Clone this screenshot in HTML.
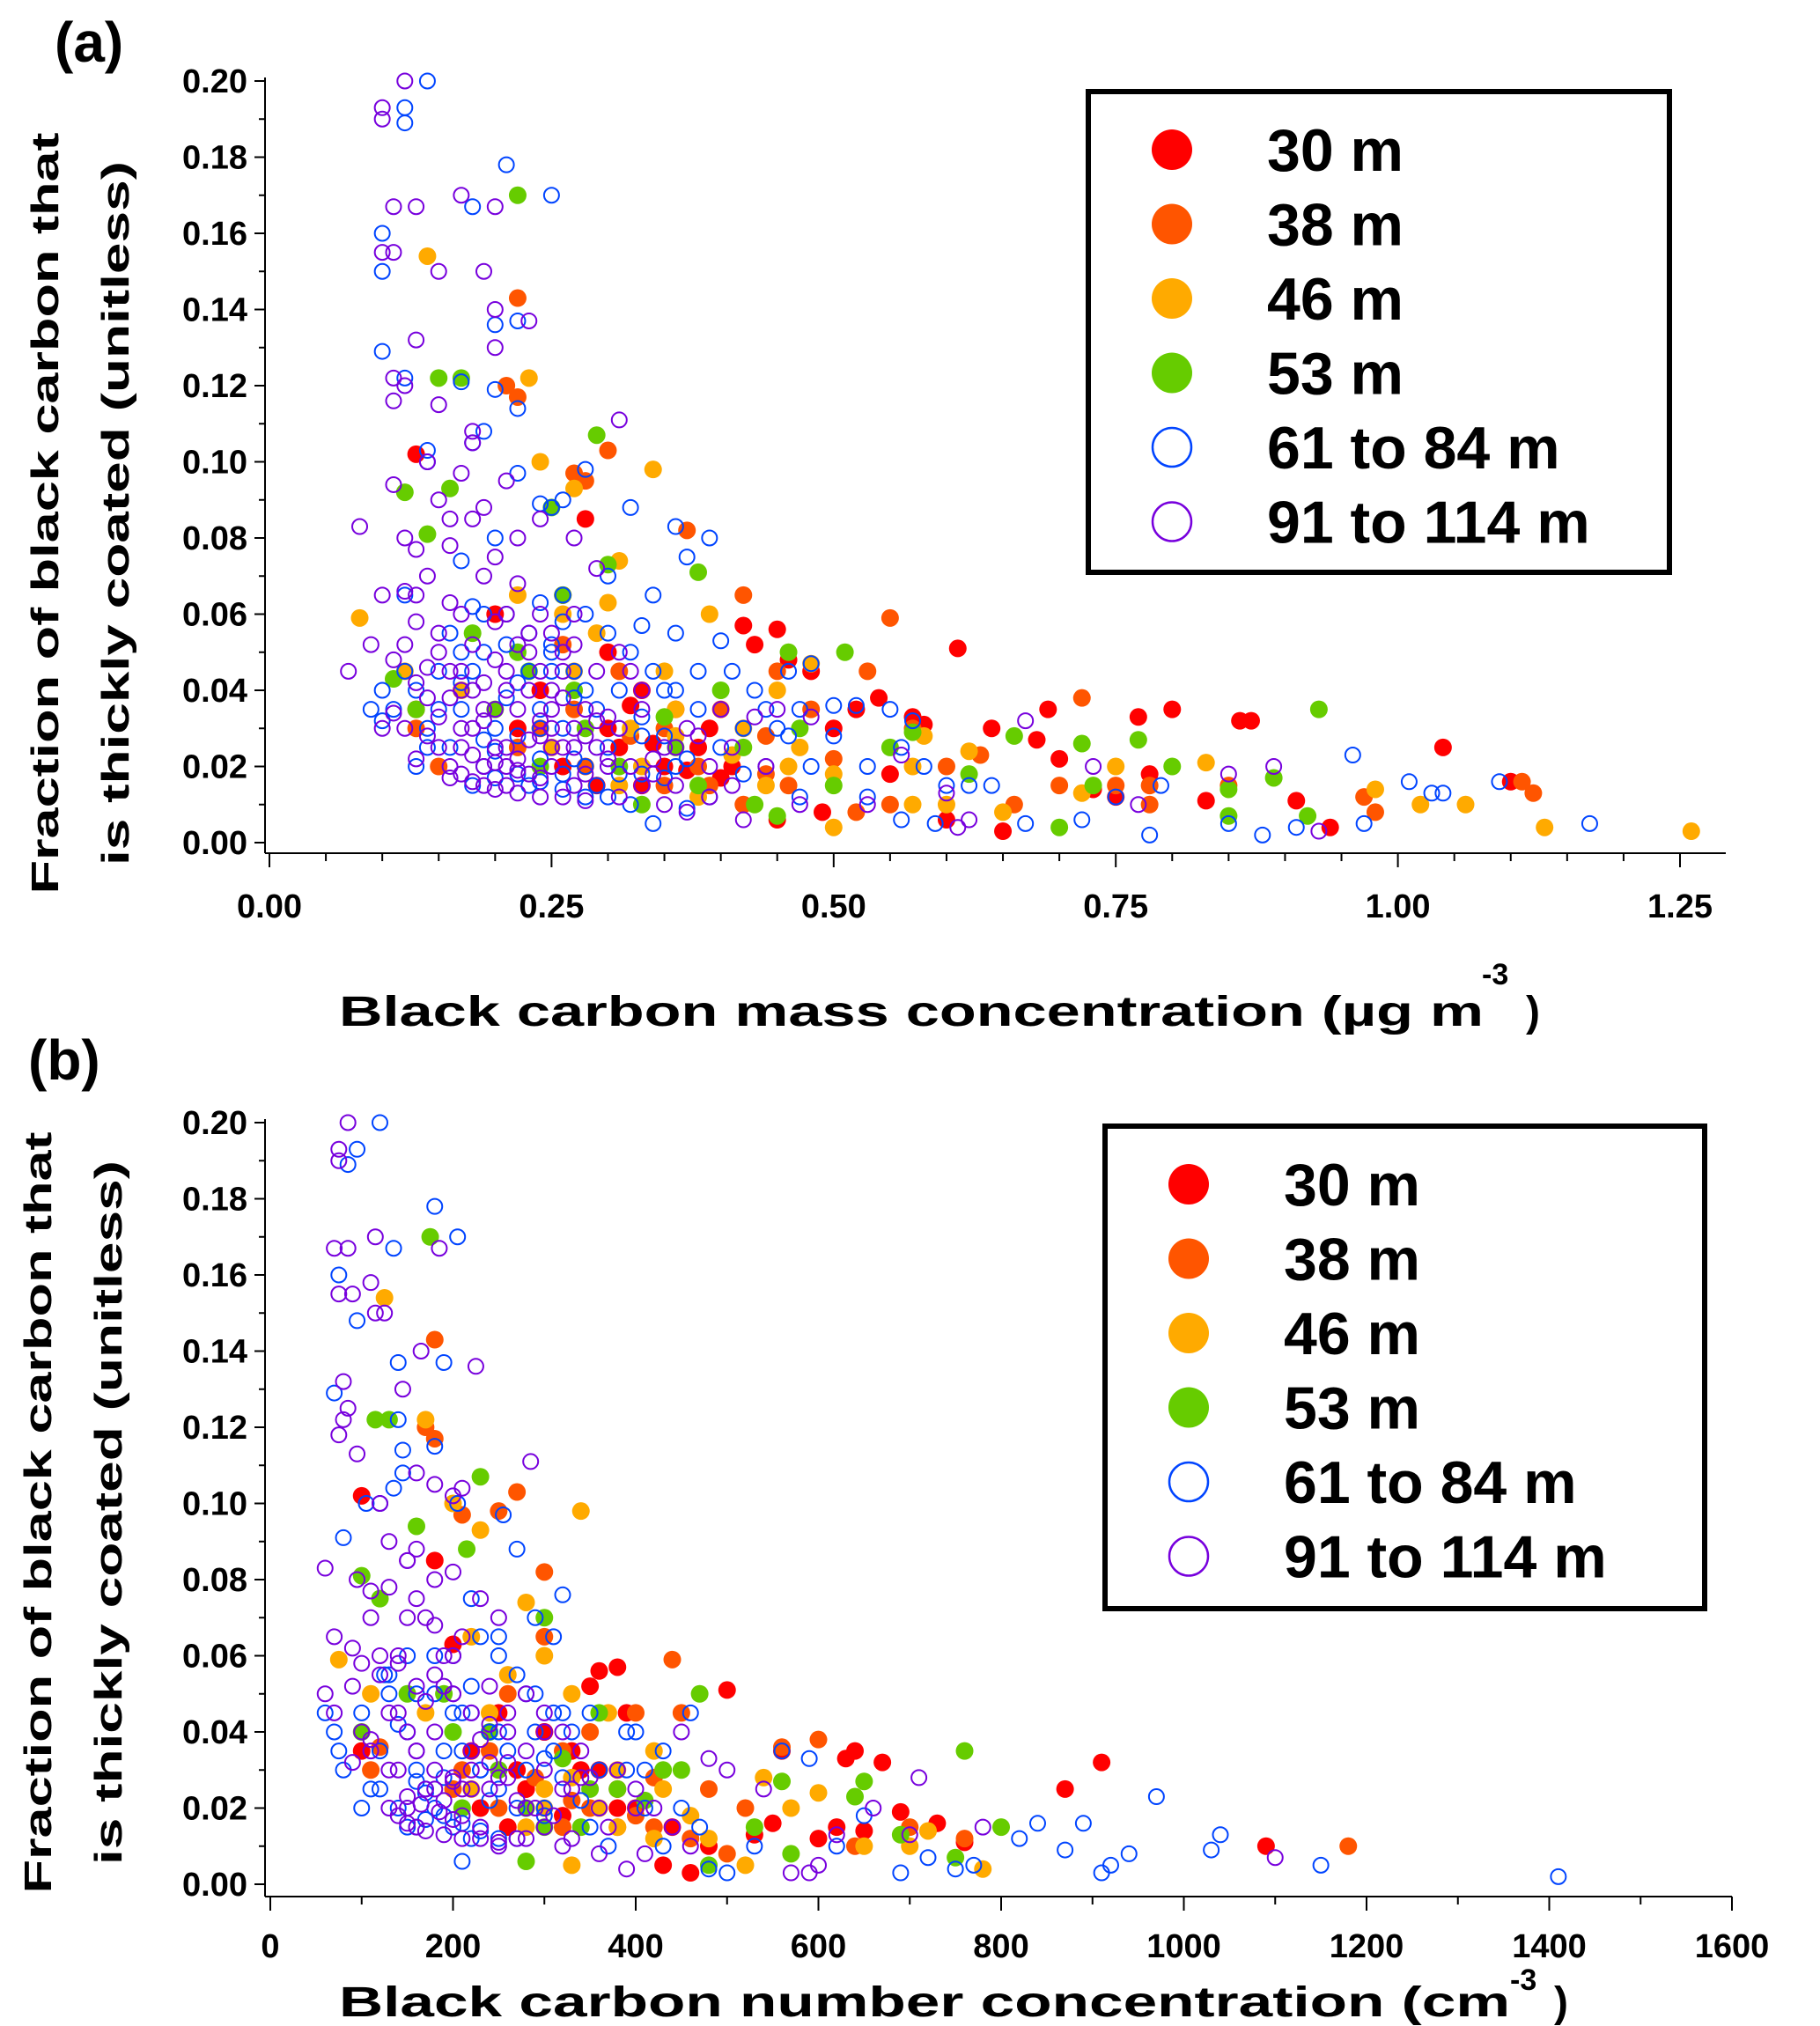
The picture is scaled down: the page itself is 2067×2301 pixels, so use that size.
<!DOCTYPE html>
<html><head><meta charset="utf-8"><style>
body{margin:0;background:#fff}
svg{display:block}
text{font-family:"Liberation Sans",sans-serif;font-weight:bold;fill:#000}
</style></head><body>
<svg id="chart" width="2067" height="2301" viewBox="0 0 2067 2301" xmlns="http://www.w3.org/2000/svg">
<rect width="2067" height="2301" fill="#fff"/>
<text x="62" y="70" font-size="64">(a)</text>
<text x="32" y="1226" font-size="64">(b)</text>
<g id="pa"></g>
<g id="pb"></g>
</svg>
<script>
const seriesNames=["30 m","38 m","46 m","53 m","61 to 84 m","91 to 114 m"];
const seriesColors=["#ff0000","#ff5500","#ffaa00","#66cc00","#0044ff","#7700dd"];
const seriesFilled=[true,true,true,true,false,false];
const yTicks=[0,0.02,0.04,0.06,0.08,0.1,0.12,0.14,0.16,0.18,0.2];
const yTickLabels=["0.00","0.02","0.04","0.06","0.08","0.10","0.12","0.14","0.16","0.18","0.20"];
const xTicksA=[0,0.25,0.5,0.75,1.0,1.25];
const xTickLabelsA=["0.00","0.25","0.50","0.75","1.00","1.25"];
const xTicksB=[0,200,400,600,800,1000,1200,1400,1600];
const xTickLabelsB=["0","200","400","600","800","1000","1200","1400","1600"];

const a30=[[0.13,0.102],[0.28,0.085],[0.26,0.065],[0.42,0.057],[0.45,0.056],[0.48,0.045],[0.46,0.048],[0.43,0.052],[0.5,0.03],[0.52,0.035],[0.54,0.038],[0.57,0.033],[0.58,0.031],[0.61,0.051],[0.64,0.03],[0.69,0.035],[0.77,0.033],[0.8,0.035],[0.86,0.032],[0.87,0.032],[1.04,0.025],[1.1,0.016],[0.94,0.004],[0.83,0.011],[0.78,0.018],[0.73,0.014],[0.7,0.022],[0.65,0.003],[0.6,0.006],[0.55,0.018],[0.49,0.008],[0.45,0.006],[0.4,0.017],[0.37,0.019],[0.35,0.02],[0.34,0.026],[0.32,0.036],[0.3,0.05],[0.24,0.04],[0.22,0.03],[0.2,0.06],[0.13,0.035],[0.38,0.025],[0.33,0.015],[0.75,0.012],[0.91,0.011],[0.68,0.027],[0.26,0.02],[0.3,0.03],[0.33,0.04],[0.36,0.035],[0.39,0.03],[0.41,0.02],[0.29,0.015],[0.31,0.025]];
const a38=[[0.22,0.143],[0.21,0.12],[0.22,0.117],[0.3,0.103],[0.27,0.097],[0.28,0.095],[0.55,0.059],[0.42,0.065],[0.37,0.082],[0.45,0.045],[0.53,0.045],[0.57,0.03],[0.63,0.023],[0.72,0.038],[0.75,0.015],[0.78,0.015],[0.85,0.015],[0.97,0.012],[0.98,0.008],[1.11,0.016],[1.12,0.013],[0.6,0.02],[0.5,0.022],[0.44,0.028],[0.4,0.035],[0.35,0.03],[0.31,0.045],[0.26,0.052],[0.22,0.025],[0.15,0.02],[0.13,0.03],[0.42,0.01],[0.39,0.015],[0.48,0.035],[0.66,0.01],[0.7,0.015],[0.78,0.01],[0.55,0.01],[0.52,0.008],[0.24,0.03],[0.28,0.02],[0.32,0.028],[0.35,0.015],[0.38,0.02],[0.44,0.018],[0.46,0.015],[0.27,0.035]];
const a46=[[0.08,0.059],[0.14,0.154],[0.23,0.122],[0.24,0.1],[0.27,0.093],[0.3,0.063],[0.34,0.098],[0.31,0.074],[0.35,0.045],[0.39,0.06],[0.45,0.04],[0.48,0.047],[0.57,0.02],[0.58,0.028],[0.62,0.024],[0.65,0.008],[0.83,0.021],[0.98,0.014],[1.02,0.01],[1.06,0.01],[1.13,0.004],[1.26,0.003],[0.75,0.02],[0.57,0.01],[0.5,0.004],[0.44,0.015],[0.41,0.023],[0.36,0.035],[0.32,0.03],[0.29,0.055],[0.26,0.06],[0.22,0.065],[0.17,0.04],[0.12,0.045],[0.6,0.01],[0.72,0.013],[0.38,0.012],[0.46,0.02],[0.25,0.025],[0.27,0.045],[0.33,0.02],[0.36,0.028],[0.42,0.03],[0.47,0.025],[0.31,0.015],[0.5,0.018]];
const a53=[[0.22,0.17],[0.15,0.122],[0.17,0.122],[0.29,0.107],[0.16,0.093],[0.12,0.092],[0.25,0.088],[0.14,0.081],[0.38,0.071],[0.3,0.073],[0.51,0.05],[0.46,0.05],[0.57,0.029],[0.66,0.028],[0.72,0.026],[0.77,0.027],[0.93,0.035],[0.89,0.017],[0.85,0.014],[0.8,0.02],[0.73,0.015],[0.62,0.018],[0.55,0.025],[0.5,0.015],[0.45,0.007],[0.43,0.01],[0.36,0.025],[0.33,0.01],[0.28,0.03],[0.23,0.045],[0.2,0.035],[0.13,0.035],[0.11,0.043],[0.7,0.004],[0.85,0.007],[0.92,0.007],[0.26,0.065],[0.18,0.055],[0.4,0.04],[0.24,0.02],[0.27,0.04],[0.31,0.02],[0.35,0.033],[0.42,0.025],[0.47,0.03],[0.22,0.05],[0.38,0.015]];
const a61=[[0.14,0.2],[0.12,0.193],[0.12,0.189],[0.1,0.16],[0.1,0.15],[0.21,0.178],[0.25,0.17],[0.18,0.167],[0.22,0.137],[0.2,0.136],[0.1,0.129],[0.12,0.122],[0.17,0.121],[0.2,0.119],[0.22,0.114],[0.19,0.108],[0.18,0.105],[0.14,0.103],[0.14,0.1],[0.28,0.098],[0.22,0.097],[0.26,0.09],[0.25,0.088],[0.24,0.089],[0.32,0.088],[0.36,0.083],[0.39,0.08],[0.37,0.075],[0.2,0.08],[0.17,0.074],[0.3,0.07],[0.34,0.065],[0.24,0.063],[0.12,0.065],[0.18,0.062],[0.26,0.058],[0.33,0.057],[0.36,0.055],[0.4,0.053],[0.48,0.047],[0.46,0.045],[0.5,0.036],[0.52,0.036],[0.57,0.032],[0.55,0.035],[0.62,0.015],[0.64,0.015],[0.67,0.005],[0.72,0.006],[0.75,0.012],[0.79,0.015],[0.85,0.005],[0.88,0.002],[0.91,0.004],[0.96,0.023],[1.01,0.016],[1.03,0.013],[1.04,0.013],[1.09,0.016],[1.17,0.005],[0.97,0.005],[0.78,0.002],[0.6,0.015],[0.58,0.02],[0.53,0.02],[0.47,0.012],[0.44,0.02],[0.42,0.03],[0.39,0.012],[0.37,0.009],[0.35,0.017],[0.33,0.028],[0.31,0.04],[0.3,0.025],[0.28,0.02],[0.27,0.038],[0.25,0.05],[0.24,0.03],[0.23,0.015],[0.22,0.042],[0.21,0.052],[0.2,0.03],[0.19,0.02],[0.18,0.045],[0.17,0.035],[0.16,0.025],[0.15,0.045],[0.14,0.03],[0.13,0.04],[0.12,0.045],[0.11,0.035],[0.1,0.04],[0.09,0.035],[0.1,0.032],[0.26,0.018],[0.29,0.015],[0.32,0.01],[0.34,0.005],[0.36,0.02],[0.4,0.025],[0.42,0.018],[0.46,0.028],[0.5,0.028],[0.56,0.025],[0.27,0.045],[0.23,0.055],[0.19,0.06],[0.29,0.035],[0.31,0.018],[0.24,0.022],[0.21,0.038],[0.17,0.05],[0.38,0.035],[0.41,0.045],[0.35,0.04],[0.44,0.035],[0.48,0.02],[0.53,0.012],[0.56,0.006],[0.59,0.005],
[0.18,0.015],[0.2,0.017],[0.22,0.018],[0.24,0.016],[0.26,0.014],[0.28,0.012],[0.3,0.012],[0.33,0.018],[0.2,0.024],[0.22,0.028],[0.24,0.035],[0.26,0.03],[0.28,0.04],[0.23,0.045],[0.25,0.052],[0.21,0.06],[0.19,0.05],[0.17,0.042],[0.15,0.035],[0.16,0.055],[0.26,0.065],[0.28,0.06],[0.3,0.055],[0.32,0.05],[0.34,0.045],[0.36,0.04],[0.38,0.045],[0.37,0.022],[0.35,0.028],[0.33,0.033],[0.31,0.03],[0.43,0.04],[0.45,0.03],[0.47,0.035],[0.27,0.022],[0.25,0.045],[0.19,0.027],[0.14,0.025],[0.13,0.02]];
const a91=[[0.12,0.2],[0.1,0.193],[0.1,0.19],[0.11,0.167],[0.13,0.167],[0.17,0.17],[0.2,0.167],[0.1,0.155],[0.11,0.155],[0.15,0.15],[0.19,0.15],[0.2,0.14],[0.23,0.137],[0.2,0.13],[0.13,0.132],[0.11,0.122],[0.12,0.12],[0.11,0.116],[0.15,0.115],[0.31,0.111],[0.18,0.108],[0.18,0.105],[0.14,0.1],[0.17,0.097],[0.21,0.095],[0.11,0.094],[0.15,0.09],[0.16,0.085],[0.19,0.088],[0.08,0.083],[0.12,0.08],[0.13,0.077],[0.22,0.08],[0.24,0.085],[0.27,0.08],[0.29,0.072],[0.1,0.065],[0.12,0.066],[0.13,0.065],[0.16,0.063],[0.2,0.058],[0.23,0.055],[0.26,0.05],[0.07,0.045],[0.09,0.052],[0.11,0.048],[0.14,0.046],[0.15,0.05],[0.17,0.045],[0.19,0.042],[0.21,0.045],[0.22,0.035],[0.24,0.032],[0.25,0.04],[0.27,0.03],[0.29,0.025],[0.31,0.03],[0.33,0.035],[0.35,0.025],[0.37,0.03],[0.39,0.02],[0.41,0.025],[0.43,0.033],[0.45,0.035],[0.48,0.033],[0.39,0.012],[0.42,0.006],[0.37,0.008],[0.33,0.015],[0.3,0.02],[0.27,0.015],[0.25,0.02],[0.23,0.018],[0.21,0.015],[0.19,0.02],[0.17,0.025],[0.16,0.017],[0.14,0.028],[0.13,0.022],[0.12,0.03],[0.11,0.034],[0.1,0.03],[0.18,0.03],[0.2,0.025],[0.22,0.022],[0.26,0.025],[0.28,0.035],[0.24,0.045],[0.2,0.035],[0.16,0.038],[0.15,0.033],[0.18,0.052],[0.21,0.06],[0.61,0.004],[0.62,0.006],[0.67,0.032],[0.73,0.02],[0.77,0.01],[0.85,0.018],[0.89,0.02],[0.93,0.003],[0.53,0.01],[0.56,0.023],[0.6,0.013],[0.47,0.01],[0.32,0.045],[0.34,0.022],[0.36,0.015],[0.4,0.035],[0.26,0.045],[0.23,0.04],[0.19,0.032],[0.17,0.04],[0.15,0.025],[0.13,0.042],[0.21,0.02],[0.24,0.028],[0.28,0.018],[0.3,0.033],[0.25,0.055],[0.27,0.06],
[0.16,0.02],[0.17,0.018],[0.18,0.016],[0.19,0.015],[0.2,0.014],[0.22,0.013],[0.24,0.012],[0.26,0.012],[0.28,0.011],[0.21,0.025],[0.23,0.027],[0.25,0.03],[0.27,0.025],[0.19,0.035],[0.21,0.04],[0.23,0.05],[0.25,0.035],[0.2,0.048],[0.22,0.052],[0.18,0.04],[0.16,0.045],[0.14,0.038],[0.15,0.055],[0.17,0.06],[0.19,0.07],[0.2,0.075],[0.22,0.068],[0.24,0.06],[0.26,0.038],[0.28,0.028],[0.3,0.022],[0.32,0.02],[0.34,0.018],[0.36,0.025],[0.38,0.028],[0.18,0.085],[0.16,0.078],[0.14,0.07],[0.13,0.058],[0.12,0.052],[0.29,0.045],[0.31,0.05],[0.33,0.04],[0.27,0.052],[0.24,0.017],[0.22,0.019],[0.2,0.021],[0.18,0.023],[0.17,0.03],[0.25,0.025],[0.29,0.032],[0.31,0.012],[0.35,0.01],[0.41,0.015],[0.44,0.02]];

const b30=[[100,0.102],[180,0.085],[200,0.063],[380,0.057],[360,0.056],[390,0.045],[350,0.052],[500,0.051],[560,0.035],[630,0.033],[640,0.035],[670,0.032],[910,0.032],[870,0.025],[1090,0.01],[690,0.019],[730,0.016],[760,0.011],[460,0.003],[430,0.005],[550,0.016],[530,0.013],[600,0.012],[620,0.015],[650,0.014],[400,0.02],[380,0.025],[340,0.03],[300,0.04],[250,0.045],[220,0.035],[100,0.035],[440,0.015],[480,0.01],[320,0.018],[280,0.025],[230,0.02],[270,0.03],[300,0.04],[330,0.035],[360,0.03],[380,0.02],[260,0.015],[280,0.025]];
const b38=[[180,0.143],[170,0.12],[180,0.117],[270,0.103],[210,0.097],[250,0.098],[440,0.059],[300,0.065],[300,0.082],[400,0.045],[450,0.045],[600,0.038],[560,0.036],[1180,0.01],[760,0.012],[700,0.015],[640,0.01],[520,0.02],[480,0.025],[350,0.04],[320,0.035],[260,0.05],[200,0.025],[110,0.03],[120,0.036],[500,0.008],[460,0.012],[420,0.028],[380,0.015],[330,0.022],[210,0.03],[250,0.02],[290,0.028],[320,0.015],[350,0.02],[400,0.018],[420,0.015],[240,0.035]];
const b46=[[75,0.059],[125,0.154],[170,0.122],[200,0.1],[230,0.093],[340,0.098],[300,0.06],[280,0.074],[330,0.05],[370,0.045],[420,0.035],[570,0.02],[600,0.024],[720,0.014],[780,0.004],[700,0.01],[540,0.028],[480,0.012],[420,0.012],[330,0.005],[300,0.025],[260,0.055],[220,0.065],[170,0.045],[110,0.05],[380,0.015],[360,0.02],[520,0.005],[650,0.01],[220,0.025],[240,0.045],[300,0.02],[330,0.028],[380,0.03],[430,0.025],[280,0.015],[460,0.018]];
const b53=[[175,0.17],[115,0.122],[130,0.122],[230,0.107],[160,0.094],[100,0.081],[215,0.088],[120,0.075],[300,0.07],[470,0.05],[360,0.045],[450,0.03],[560,0.027],[650,0.027],[760,0.035],[800,0.015],[750,0.007],[690,0.013],[570,0.008],[480,0.005],[530,0.015],[410,0.022],[350,0.025],[300,0.015],[280,0.006],[250,0.03],[200,0.04],[150,0.05],[100,0.04],[640,0.023],[210,0.02],[240,0.04],[280,0.02],[320,0.033],[380,0.025],[430,0.03],[190,0.05],[340,0.015]];
const b61=[[120,0.2],[95,0.193],[85,0.189],[75,0.16],[95,0.148],[180,0.178],[205,0.17],[135,0.167],[190,0.137],[140,0.137],[70,0.129],[140,0.122],[145,0.114],[180,0.115],[135,0.104],[145,0.108],[120,0.1],[105,0.1],[80,0.091],[205,0.1],[255,0.097],[270,0.088],[320,0.076],[310,0.065],[290,0.07],[220,0.075],[250,0.065],[200,0.06],[60,0.045],[70,0.04],[75,0.035],[80,0.03],[100,0.045],[130,0.05],[150,0.04],[160,0.03],[170,0.025],[180,0.02],[190,0.035],[210,0.045],[230,0.03],[250,0.025],[270,0.02],[290,0.04],[310,0.035],[330,0.025],[350,0.015],[370,0.01],[390,0.03],[410,0.02],[430,0.01],[450,0.02],[470,0.015],[500,0.003],[480,0.004],[530,0.01],[560,0.035],[590,0.033],[620,0.01],[650,0.018],[690,0.003],[720,0.007],[750,0.004],[770,0.005],[820,0.012],[840,0.016],[870,0.009],[890,0.016],[910,0.003],[920,0.005],[940,0.008],[970,0.023],[1030,0.009],[1040,0.013],[1150,0.005],[1410,0.002],[210,0.006],[140,0.02],[160,0.015],[200,0.015],[220,0.012],[120,0.025],[400,0.04],[460,0.045],[360,0.03],[280,0.05],[240,0.04],[260,0.035],[300,0.02],[320,0.045],[180,0.05],[150,0.06],[125,0.055],
[150,0.015],[170,0.017],[190,0.018],[210,0.016],[230,0.014],[250,0.012],[270,0.012],[300,0.018],[170,0.024],[190,0.028],[210,0.035],[230,0.03],[250,0.04],[200,0.045],[220,0.052],[180,0.06],[160,0.05],[140,0.042],[120,0.035],[130,0.055],[230,0.065],[250,0.06],[270,0.055],[290,0.05],[310,0.045],[330,0.04],[350,0.045],[340,0.022],[320,0.028],[300,0.033],[280,0.03],[390,0.04],[410,0.03],[430,0.035],[240,0.022],[220,0.045],[160,0.027],[110,0.025],[100,0.02]];
const b91=[[85,0.2],[75,0.193],[75,0.19],[70,0.167],[85,0.167],[115,0.17],[185,0.167],[90,0.155],[75,0.155],[115,0.15],[125,0.15],[110,0.158],[165,0.14],[145,0.13],[80,0.132],[80,0.122],[85,0.125],[75,0.118],[95,0.113],[225,0.136],[285,0.111],[160,0.108],[180,0.105],[200,0.102],[210,0.104],[120,0.1],[130,0.09],[150,0.085],[160,0.088],[60,0.083],[95,0.08],[110,0.077],[180,0.08],[200,0.082],[230,0.075],[250,0.07],[70,0.065],[90,0.062],[120,0.06],[140,0.058],[160,0.052],[180,0.055],[200,0.05],[220,0.045],[240,0.042],[260,0.04],[280,0.035],[300,0.03],[320,0.025],[340,0.028],[360,0.02],[380,0.03],[400,0.025],[420,0.02],[440,0.015],[460,0.01],[410,0.008],[390,0.004],[360,0.008],[330,0.012],[300,0.015],[270,0.012],[250,0.01],[230,0.015],[210,0.018],[190,0.022],[170,0.025],[150,0.02],[130,0.03],[110,0.035],[90,0.032],[70,0.045],[60,0.05],[100,0.04],[140,0.045],[160,0.035],[180,0.03],[200,0.028],[220,0.025],[240,0.032],[260,0.028],[280,0.02],[300,0.045],[320,0.04],[340,0.035],[170,0.07],[190,0.06],[210,0.065],[480,0.033],[500,0.03],[540,0.025],[590,0.003],[600,0.005],[620,0.013],[660,0.02],[700,0.013],[710,0.028],[780,0.015],[1100,0.007],[570,0.003],[450,0.04],
[130,0.02],[140,0.018],[150,0.016],[160,0.015],[170,0.014],[190,0.013],[210,0.012],[230,0.012],[250,0.011],[180,0.025],[200,0.027],[220,0.03],[240,0.025],[160,0.035],[180,0.04],[200,0.05],[220,0.035],[170,0.048],[190,0.052],[150,0.04],[130,0.045],[110,0.038],[120,0.055],[140,0.06],[150,0.07],[160,0.075],[180,0.068],[200,0.06],[230,0.038],[250,0.028],[270,0.022],[290,0.02],[310,0.018],[330,0.025],[350,0.028],[150,0.085],[130,0.078],[110,0.07],[100,0.058],[90,0.052],[260,0.045],[280,0.05],[300,0.04],[240,0.052],[200,0.017],[185,0.019],[165,0.021],[150,0.023],[140,0.03],[210,0.025],[260,0.032],[280,0.012],[320,0.01],[370,0.015],[400,0.02]];

const NS="http://www.w3.org/2000/svg";
function mk(parent,tag,attrs){const e=document.createElementNS(NS,tag);for(const k in attrs)e.setAttribute(k,attrs[k]);parent.appendChild(e);return e;}

function drawPanel(g,cfg,data){
  const xs=v=>cfg.x0+(v-cfg.xmin)/(cfg.xmax-cfg.xmin)*(cfg.x1-cfg.x0);
  const ys=v=>cfg.y0-(v-0)/(0.2)*(cfg.y0-cfg.y1);
  const ya=mk(g,'line',{x1:cfg.ax,y1:cfg.y1-4,x2:cfg.ax,y2:cfg.axy,stroke:'#000','stroke-width':2});
  
  
  const xa=mk(g,'line',{x1:cfg.ax,y1:cfg.axy,x2:cfg.axEnd,y2:cfg.axy,stroke:'#000','stroke-width':2});
  
  
  for(let v=0;v<=0.2001;v+=0.01){
    const major=Math.round(v*100)%2===0;
    const t=mk(g,'line',{x1:cfg.ax-(major?12:7),y1:ys(v),x2:cfg.ax,y2:ys(v),stroke:'#000','stroke-width':2});
    
    
  }
  yTicks.forEach((v,i)=>{
    const t=mk(g,'text',{x:cfg.ax-20,y:ys(v)+13,'font-size':38,'text-anchor':'end'});
    t.textContent=yTickLabels[i];
    
    
  });
  for(let v=cfg.xmin;v<=cfg.xmax+1e-9;v+=cfg.minor){
    const isMajor=Math.abs(v/cfg.major-Math.round(v/cfg.major))<1e-6;
    const t=mk(g,'line',{x1:xs(v),y1:cfg.axy,x2:xs(v),y2:cfg.axy+(isMajor?16:9),stroke:'#000','stroke-width':2});
    
    
  }
  cfg.xt.forEach((v,i)=>{
    const t=mk(g,'text',{x:xs(v),y:cfg.tly,'font-size':38,'text-anchor':'middle'});
    t.textContent=cfg.xtl[i];
    
    
  });
  data.forEach((pts,si)=>{
    const sg=mk(g,'g',{});
    
    
    pts.forEach(p=>{
      const c=seriesFilled[si]?mk(sg,'circle',{cx:xs(p[0]),cy:ys(p[1]),r:10,fill:seriesColors[si]}):
        mk(sg,'circle',{cx:xs(p[0]),cy:ys(p[1]),r:8.5,fill:'none',stroke:seriesColors[si],'stroke-width':2});
      
      
    });
  });
  const lg=mk(g,'g',{});
  
  
  mk(lg,'rect',{x:cfg.lx,y:cfg.ly,width:cfg.lw,height:cfg.lh,fill:'#fff',stroke:'#000','stroke-width':6});
  seriesNames.forEach((n,i)=>{
    const cy=cfg.ly+66+i*84.5;
    const m=seriesFilled[i]?mk(lg,'circle',{cx:cfg.lx+95,cy:cy,r:23,fill:seriesColors[i]}):
      mk(lg,'circle',{cx:cfg.lx+95,cy:cy,r:22,fill:'none',stroke:seriesColors[i],'stroke-width':2.5});
    
    
    const t=mk(lg,'text',{x:cfg.lx+203,y:cy+24,'font-size':68});
    t.textContent=n;
    
    
  });
  const yt=mk(g,'text',{transform:`translate(${cfg.yt1x},${cfg.ytc}) rotate(-90)`,'font-size':44,'text-anchor':'middle',textLength:865,lengthAdjust:'spacingAndGlyphs'});
  yt.textContent='Fraction of black carbon that';
  
  
  const yt2=mk(g,'text',{transform:`translate(${cfg.yt1x+80},${cfg.ytc}) rotate(-90)`,'font-size':44,'text-anchor':'middle',textLength:800,lengthAdjust:'spacingAndGlyphs'});
  yt2.textContent='is thickly coated (unitless)';
  
  
  const xt=mk(g,'text',{x:cfg.xtx,y:cfg.xty,'font-size':48,textLength:cfg.xtw,lengthAdjust:'spacingAndGlyphs'});
  xt.textContent=cfg.xtitle;
  
  
  const sup=mk(g,'text',{x:cfg.supx,y:cfg.supy,'font-size':34});
  sup.textContent='-3';
  
  
  const cp=mk(g,'text',{x:cfg.supx+(cfg.supx2||48),y:cfg.xty,'font-size':48});
  cp.textContent=')';
  
  
}

drawPanel(document.getElementById('pa'),{
  x0:306,x1:1908,xmin:0,xmax:1.25,y0:957,y1:92,ax:301,axy:969,axEnd:1960,
  minor:0.05,major:0.25,xt:xTicksA,xtl:xTickLabelsA,tly:1042,
  lx:1236,ly:104,lw:660,lh:546,yt1x:66,ytc:583,
  xtx:385,xty:1165,xtw:1300,xtitle:'Black carbon mass concentration (µg m',supx:1683,supy:1118,supx2:50
},[a30,a38,a46,a53,a61,a91]);
drawPanel(document.getElementById('pb'),{
  x0:307,x1:1967,xmin:0,xmax:1600,y0:2140,y1:1275,ax:301,axy:2154,axEnd:1967,
  minor:100,major:200,xt:xTicksB,xtl:xTickLabelsB,tly:2223,
  lx:1255,ly:1279,lw:681,lh:548,yt1x:58,ytc:1718,
  xtx:385,xty:2290,xtw:1330,xtitle:'Black carbon  number concentration (cm',supx:1715,supy:2260,supx2:50
},[b30,b38,b46,b53,b61,b91]);
</script>
</body></html>
